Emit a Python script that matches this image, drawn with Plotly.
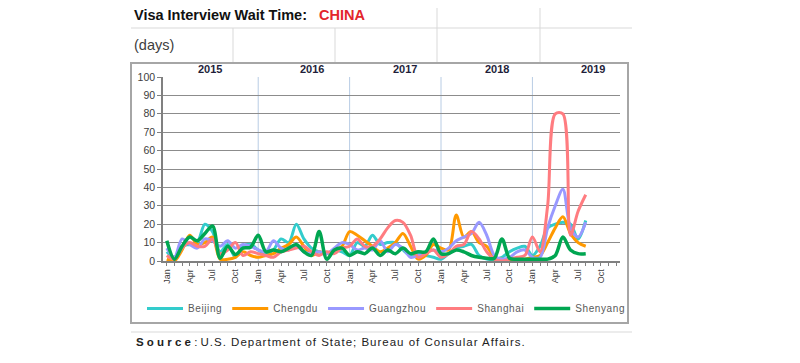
import plotly.graph_objects as go

# ---------------- data ----------------
month_labels = ["Jan", "Apr", "Jul", "Oct"]
years = ["2015", "2016", "2017", "2018", "2019"]
series_names = ["Beijing", "Chengdu", "Guangzhou", "Shanghai", "Shenyang"]

beijing = [5, 2, 8, 9, 10, 20, 16, 5, 9, 2, 8, 9,
           6, 4, 6, 12, 10, 20, 12, 7, 5, 4, 6, 5,
           3, 10, 8, 14, 9, 10, 10, 6, 3, 4, 3, 2,
           1, 4, 7, 8, 9, 3, 1, 1, 2, 5, 7, 8,
           3, 8, 18, 20, 21, 20, 12, 22]
chengdu = [1, 0, 6, 14, 9, 10, 13, 1, 1, 2, 5, 3,
           2, 3, 4, 7, 9, 13, 8, 3, 5, 4, 6, 8,
           16, 14, 11, 8, 5, 7, 10, 15, 8, 1, 3, 9,
           7, 6, 25, 13, 16, 10, 8, 2, 1, 0, 1, 1,
           2, 3, 10, 18, 24, 15, 10, 8]
guangzhou = [7, 2, 12, 9, 7, 12, 11, 8, 11, 7, 9, 8,
             6, 5, 11, 7, 6, 8, 5, 4, 5, 4, 7, 10,
             9, 6, 7, 6, 11, 5, 9, 7, 2, 3, 5, 6,
             5, 7, 11, 13, 15, 21, 14, 3, 1, 2, 5, 6,
             2, 2, 18, 30, 39, 18, 13, 21]
shanghai = [3, 1, 7, 10, 8, 8, 12, 4, 6, 10, 3, 5,
            4, 3, 2, 5, 6, 7, 8, 5, 3, 5, 4, 7,
            8, 12, 8, 8, 12, 18, 22, 21, 14, 2, 4, 6,
            2, 4, 8, 9, 16, 12, 5, 1, 0, 1, 2, 3,
            13, 5, 30, 80, 80, 14, 27, 36]
shenyang = [11, 1, 8, 13, 11, 15, 19, 1.5, 8, 3.5, 7, 7.5,
            14, 5, 6, 5, 7, 9, 5, 3, 16, 1, 6, 7,
            3, 5, 4, 7, 3, 6, 4, 7, 4, 5, 5, 12,
            4, 4, 6, 5, 3, 2, 1.5, 1.5, 12, 1.5, 1, 1,
            1, 1, 1, 3, 13, 6, 4, 4]
series_values = [beijing, chengdu, guangzhou, shanghai, shenyang]
colors = ["#33CCCC", "#FF9900", "#9999FF", "#FF7C80", "#00A651"]
widths = [3, 3, 3, 3, 3.5]

# year label positions (month index) and divider positions
year_label_pos = [5.7, 19.0, 31.3, 43.4, 55.9]
divider_pos = [12, 24, 36, 48]

months = list(range(len(beijing)))
all_ticks = list(range(60))
tick_text = [month_labels[m // 3 % 4] if m % 3 == 0 else "" for m in all_ticks]

# ---------------- layout helpers ----------------
# the page places the figure 8px from the window's top-left corner
OFF = 8
W, H = 800 - OFF, 363 - OFF
L, R, T, B = 163, 620, 77, 261   # plot area in window pixels


def px(x):
    return (x - L) / (R - L)


def py(y):
    return (B - y) / (B - T)


def spaced(txt, sp):
    return "<span style='letter-spacing:%spx'>%s</span>" % (sp, txt)


fig = go.Figure()
for name, vals, c, w in zip(series_names, series_values, colors, widths):
    fig.add_trace(go.Scatter(
        x=months, y=vals, name=spaced(name, 0.6), mode="lines",
        line=dict(color=c, width=w, shape="spline", smoothing=0.9),
    ))

shapes = []
for d in divider_pos:
    shapes.append(dict(type="line", xref="x", yref="paper", x0=d, x1=d, y0=0, y1=1,
                       line=dict(color="#B8CCE4", width=1), layer="below"))
shapes.append(dict(type="rect", xref="paper", yref="paper", x0=px(131), x1=px(628),
                   y0=py(323), y1=py(63), line=dict(color="#A6A6A6", width=2), layer="below"))
grid_c = "#D9D9D9"
shapes.append(dict(type="line", xref="paper", yref="paper", x0=px(131), x1=px(632),
                   y0=py(28), y1=py(28), line=dict(color=grid_c, width=1)))
for xv in [437, 540]:
    shapes.append(dict(type="line", xref="paper", yref="paper", x0=px(xv), x1=px(xv),
                       y0=py(28), y1=py(0), line=dict(color=grid_c, width=1)))
for xv in [233, 335, 437, 540]:
    shapes.append(dict(type="line", xref="paper", yref="paper", x0=px(xv), x1=px(xv),
                       y0=py(62), y1=py(28), line=dict(color=grid_c, width=1)))
shapes.append(dict(type="line", xref="paper", yref="paper", x0=px(131), x1=px(632),
                   y0=py(332), y1=py(332), line=dict(color=grid_c, width=1)))

annotations = []
for yr, xp in zip(years, year_label_pos):
    annotations.append(dict(x=xp, y=py(69), xref="x", yref="paper", text="<b>" + yr + "</b>",
                            showarrow=False, font=dict(family="Liberation Sans", size=11, color="#1F1F3A"),
                            xanchor="center", yanchor="middle"))
annotations.append(dict(x=px(132), y=py(15), xref="paper", yref="paper",
                        text="<b>Visa Interview Wait Time:</b>   <b><span style='color:#E3262C'>CHINA</span></b>",
                        showarrow=False, xanchor="left", yanchor="middle",
                        font=dict(family="Liberation Sans", size=14.5, color="#111111")))
annotations.append(dict(x=px(132), y=py(45), xref="paper", yref="paper", text="(days)",
                        showarrow=False, xanchor="left", yanchor="middle",
                        font=dict(family="Liberation Sans", size=14.5, color="#404040")))
annotations.append(dict(x=px(134), y=py(342), xref="paper", yref="paper",
                        text="<b>S o u r c e</b> : " + spaced("U.S. Department of State; Bureau of Consular Affairs.", 1),
                        showarrow=False, xanchor="left", yanchor="middle",
                        font=dict(family="Liberation Sans", size=11.5, color="#222222")))

fig.update_layout(
    width=W, height=H,
    margin=dict(l=L - OFF, r=W - (R - OFF), t=T - OFF, b=H - (B - OFF)),
    paper_bgcolor="white", plot_bgcolor="white",
    showlegend=True,
    legend=dict(orientation="h", xref="paper", yref="paper",
                x=px(142), y=py(294),
                xanchor="left", yanchor="top",
                font=dict(family="Liberation Sans", size=10, color="#595959"),
                itemwidth=36, tracegroupgap=0, bgcolor="rgba(0,0,0,0)"),
    shapes=shapes, annotations=annotations,
    xaxis=dict(range=[-0.5, 59.5], tickmode="array", tickvals=all_ticks, ticktext=tick_text,
               tickangle=-90, ticks="outside", ticklen=3, tickcolor="#808080",
               showline=True, linecolor="#808080", linewidth=1.5, showgrid=False, zeroline=False,
               tickfont=dict(family="Liberation Sans", size=9, color="#404040")),
    yaxis=dict(range=[0, 100], tickvals=list(range(0, 101, 10)), ticks="outside", ticklen=4,
               tickcolor="#808080", showline=True, linecolor="#808080", linewidth=1.5,
               showgrid=True, gridcolor="#8C8C8C", gridwidth=1.2, zeroline=False,
               tickfont=dict(family="Liberation Sans", size=10.5, color="#404040")),
)

fig.write_html("out.html")
